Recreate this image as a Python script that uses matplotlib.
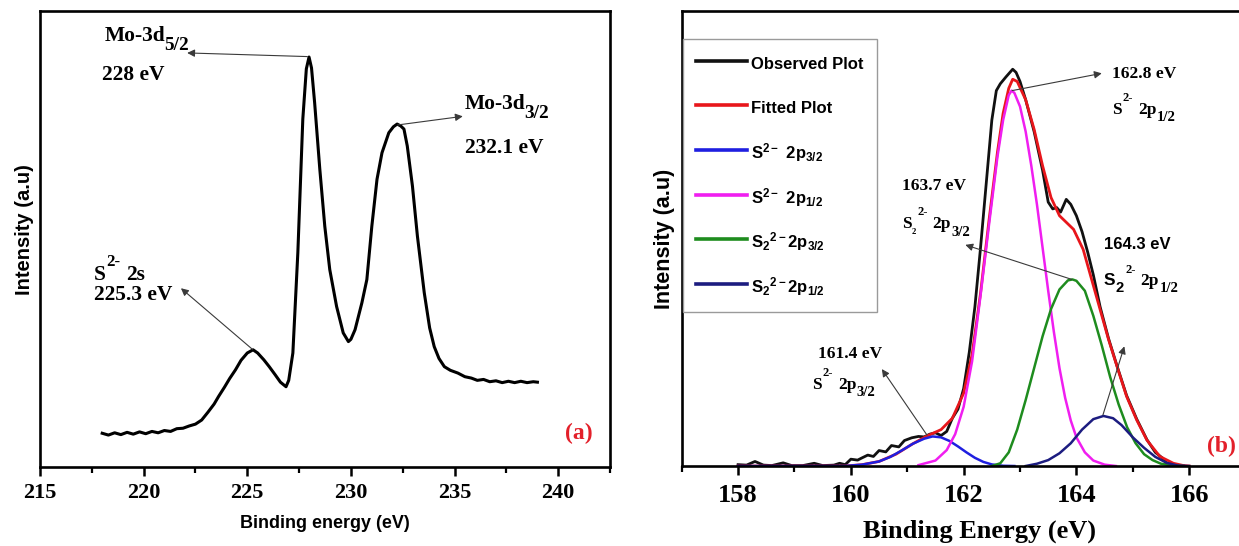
import matplotlib
matplotlib.use('Agg')
import matplotlib.pyplot as plt
from matplotlib.ticker import MultipleLocator
from matplotlib.font_manager import FontProperties

# ---------------- Panel (a): Mo 3d / S 2s region ----------------
mo_energy = [218.0, 218.3, 218.6, 218.9, 219.2, 219.5, 219.8, 220.1, 220.4, 220.7,
             221.0, 221.3, 221.6, 221.9, 222.2, 222.5, 222.8, 223.1, 223.4, 223.62,
             223.9, 224.15, 224.43, 224.7, 225.0, 225.28, 225.5, 225.8, 226.06, 226.35,
             226.6, 226.87, 227.0, 227.2, 227.44, 227.68, 227.85, 227.98, 228.1, 228.25,
             228.5, 228.74, 228.98, 229.31, 229.63, 229.88, 230.0, 230.2, 230.53, 230.77,
             231.01, 231.26, 231.5, 231.83, 232.05, 232.23, 232.4, 232.56, 232.72, 232.97,
             233.21, 233.54, 233.8, 234.02, 234.25, 234.51, 234.8, 235.16, 235.5, 235.81,
             236.1, 236.4, 236.7, 237.0, 237.3, 237.6, 237.9, 238.2, 238.5, 238.8, 239.0]
mo_intensity = [7.4, 7.0, 7.5, 7.1, 7.6, 7.2, 7.7, 7.3, 7.8, 7.5,
                8.0, 7.8, 8.4, 8.5, 9.0, 9.4, 10.3, 12.0, 13.8, 15.5,
                17.5, 19.4, 21.3, 23.4, 25.0, 25.7, 25.0, 23.5, 22.0, 20.2,
                18.6, 17.6, 19.0, 25.0, 47.0, 76.3, 87.3, 89.9, 87.5, 79.9,
                65.3, 52.8, 43.3, 35.2, 29.4, 27.5, 28.0, 30.1, 36.0, 41.1,
                52.8, 63.1, 68.9, 73.3, 74.6, 75.2, 74.8, 74.1, 70.4, 61.6,
                50.6, 38.2, 30.5, 26.4, 23.8, 22.0, 21.2, 20.6, 19.8, 19.5,
                19.0, 19.2, 18.7, 18.9, 18.5, 18.8, 18.5, 18.8, 18.5, 18.7, 18.6]

# ---------------- Panel (b): S 2p region, observed, fit and components ----------------
obs_energy = [158.0, 158.15, 158.3, 158.45, 158.6, 158.8, 158.95, 159.15, 159.35, 159.5,
              159.7, 159.8, 159.9, 160.0, 160.12, 160.2, 160.3, 160.4, 160.5, 160.62,
              160.72, 160.85, 160.95, 161.08, 161.2, 161.3, 161.4, 161.5, 161.6, 161.7,
              161.8, 161.9, 162.0, 162.1, 162.2, 162.3, 162.4, 162.5, 162.58, 162.65,
              162.75, 162.87, 162.93, 163.0, 163.1, 163.25, 163.4, 163.5, 163.58, 163.65,
              163.72, 163.82, 163.9, 164.0, 164.1, 164.2, 164.3, 164.42, 164.57, 164.72,
              164.89, 165.07, 165.25, 165.4, 165.52, 165.6, 165.75, 165.9]
obs_intensity = [0.3, 0.2, 1.0, 0.2, 0.1, 0.7, 0.1, 0.1, 0.6, 0.1,
                 0.2, 0.6, 0.3, 1.5, 1.3, 1.8, 2.4, 2.1, 3.4, 3.1,
                 4.5, 4.2, 5.6, 6.2, 6.5, 6.4, 7.0, 7.3, 6.7, 7.6,
                 10.5, 12.5, 17.0, 25.0, 35.0, 48.0, 62.0, 76.0, 82.5, 84.0,
                 85.5, 87.2, 86.5, 84.5, 80.5, 73.5, 65.0, 58.0, 56.5, 56.8,
                 55.8, 58.6, 57.5, 55.0, 51.5, 47.0, 42.0, 35.0, 28.0, 22.0,
                 15.5, 10.3, 5.8, 3.0, 1.8, 0.6, 0.2, 0.0]

fit_energy = [158.0, 159.9, 160.2, 160.5, 160.8, 161.1, 161.35, 161.6, 161.8, 162.0,
              162.15, 162.3, 162.45, 162.6, 162.7, 162.8, 162.87, 162.95, 163.1, 163.25,
              163.4, 163.55, 163.7, 163.85, 163.95, 164.12, 164.27, 164.42, 164.57, 164.72,
              164.89, 165.07, 165.25, 165.48, 165.72, 165.9, 166.0]
fit_intensity = [0.0, 0.0, 0.3, 1.0, 2.6, 4.9, 6.6, 8.0, 10.5, 16.0,
                 24.5, 38.0, 54.0, 69.0, 77.5, 83.0, 85.0, 84.5, 80.5, 74.0,
                 66.0, 59.0, 55.0, 53.2, 52.0, 47.6, 41.0, 34.4, 27.8, 21.9,
                 15.3, 10.1, 5.7, 2.1, 0.6, 0.1, 0.0]

s_2p32_energy = [158.0, 159.9, 160.2, 160.5, 160.7, 160.9, 161.1, 161.3, 161.45, 161.6,
                 161.75, 161.9, 162.05, 162.2, 162.35, 162.5, 162.7, 162.9]
s_2p32_intensity = [0.0, 0.0, 0.3, 1.0, 2.0, 3.4, 4.9, 6.0, 6.5, 6.3,
                    5.5, 4.3, 3.0, 1.8, 0.9, 0.35, 0.05, 0.0]

s_2p12_energy = [161.2, 161.5, 161.7, 161.85, 162.0, 162.15, 162.3, 162.45, 162.6, 162.7,
                 162.8, 162.85, 162.9, 163.0, 163.1, 163.2, 163.3, 163.4, 163.5, 163.6,
                 163.7, 163.8, 163.9, 164.0, 164.15, 164.3, 164.5, 164.7]
s_2p12_intensity = [0.2, 1.2, 3.5, 7.0, 13.0, 23.0, 37.5, 53.0, 68.0, 76.0,
                    81.5, 82.5, 82.0, 79.0, 73.5, 66.0, 57.5, 48.0, 38.5, 29.5,
                    21.5, 15.0, 10.0, 6.3, 3.0, 1.2, 0.3, 0.0]

s2_2p32_energy = [162.5, 162.65, 162.8, 162.95, 163.1, 163.25, 163.4, 163.55, 163.7, 163.85,
                  163.93, 164.0, 164.15, 164.3, 164.45, 164.6, 164.75, 164.9, 165.05, 165.2,
                  165.35, 165.5, 165.7, 165.9]
s2_2p32_intensity = [0.0, 0.6, 3.0, 8.0, 14.5, 21.5, 28.5, 34.5, 38.8, 40.8,
                     41.0, 40.7, 38.5, 33.0, 26.5, 19.5, 13.5, 8.5, 5.0, 2.6,
                     1.3, 0.5, 0.1, 0.0]

s2_2p12_energy = [163.1, 163.3, 163.5, 163.7, 163.9, 164.1, 164.3, 164.48, 164.65, 164.8,
                  165.0, 165.2, 165.4, 165.6, 165.8, 166.0]
s2_2p12_intensity = [0.0, 0.5, 1.3, 2.8, 5.0, 8.0, 10.3, 11.0, 10.5, 9.0,
                     6.3, 4.0, 2.0, 0.7, 0.1, 0.0]

legend_labels = ['Observed Plot', 'Fitted Plot',
                 r'$\mathregular{S^{2-}\ 2p_{3/2}}$',
                 r'$\mathregular{S^{2-}\ 2p_{1/2}}$',
                 r'$\mathregular{S_2{}^{2-}2p_{3/2}}$',
                 r'$\mathregular{S_2{}^{2-}2p_{1/2}}$']

SERIF = 'Liberation Serif'
SANS = 'Liberation Sans'
RED = '#e3202a'
ARROW = '#3a3a3a'

fig = plt.figure(figsize=(12.39, 5.46), dpi=100)
axA = fig.add_axes([0.0323, 0.1447, 0.4600, 0.8352])
axB = fig.add_axes([0.5502, 0.1465, 0.4551, 0.8334])


def style_axes(ax, xlim, major, minor, fs, pad):
    ax.set_xlim(*xlim)
    ax.set_ylim(0, 100)
    ax.set_yticks([])
    ax.xaxis.set_major_locator(MultipleLocator(major))
    ax.xaxis.set_minor_locator(MultipleLocator(minor))
    ax.tick_params(axis='x', which='major', direction='out', length=6.5, width=1.8, pad=pad)
    ax.tick_params(axis='x', which='minor', direction='out', length=4.5, width=1.6)
    for sp in ax.spines.values():
        sp.set_linewidth(1.9)
        sp.set_color('black')
    for lab in ax.get_xticklabels():
        lab.set_fontfamily(SERIF)
        lab.set_fontweight('bold')
        lab.set_fontsize(fs)


def rich(ax, x, y, parts, fs, family=SERIF, color='black'):
    """Compose a label out of pieces (text, rise_em, scale, gap_pt[, family]).
    (x, y) is the left edge / vertical centre of the first piece in data coords."""
    first = parts[0]
    prev = ax.annotate(first[0], xy=(x, y), xycoords='data',
                       xytext=(0, -0.33 * fs), textcoords='offset points',
                       ha='left', va='baseline', fontsize=fs,
                       fontfamily=first[4] if len(first) > 4 else family,
                       fontweight='bold', color=color)
    for part in parts[1:]:
        txt, rise, scale, gap = part[:4]
        fam = part[4] if len(part) > 4 else family
        prev = ax.annotate(txt, xy=(1, y), xycoords=(prev, 'data'),
                           xytext=(gap, (rise - 0.33) * fs), textcoords='offset points',
                           ha='left', va='baseline', fontsize=fs * scale,
                           fontfamily=fam, fontweight='bold', color=color)
    return prev


SUP = 0.62
SUB = -0.42

# ---------------- Panel (a) ----------------
axA.plot(mo_energy, mo_intensity, color='black', lw=2.2)
style_axes(axA, (215, 242.5), 5, 2.5, 16, 5)
axA.set_xlabel('Binding energy (eV)', fontfamily=SANS, fontweight='bold', fontsize=13, labelpad=8.5)
axA.set_ylabel('Intensity (a.u)', fontfamily=SANS, fontweight='bold', fontsize=14.5, labelpad=4, y=0.52)

FA = 15.5
rich(axA, 218.1, 95.0, [('Mo-3d', 0, 1, 0), ('5/2', SUB, 0.9, -0.8)], FA)
rich(axA, 218.0, 86.5, [('228 eV', 0, 1, 0)], FA)
rich(axA, 235.5, 80.0, [('Mo-3d', 0, 1, 0), ('3/2', SUB, 0.9, -0.8)], FA)
rich(axA, 235.5, 70.4, [('232.1 eV', 0, 1, 0)], FA)
rich(axA, 217.6, 42.6, [('S', 0, 1, 0), ('2-', SUP, 0.78, 0.3), ('2s', 0, 1, 4.0)], FA)
rich(axA, 217.6, 38.2, [('225.3 eV', 0, 1, 0)], FA)
axA.text(241.0, 7.3, '(a)', color=RED, fontfamily=SERIF, fontweight='bold', fontsize=17,
         va='center', ha='center')

arrow_kw = dict(arrowstyle='-|>', color=ARROW, lw=0.8, mutation_scale=11, shrinkA=0, shrinkB=0)
axA.annotate('', xy=(222.1, 90.8), xytext=(227.9, 90.0), arrowprops=arrow_kw)
axA.annotate('', xy=(235.4, 76.9), xytext=(232.25, 75.0), arrowprops=arrow_kw)
axA.annotate('', xy=(221.8, 39.2), xytext=(225.25, 25.8), arrowprops=arrow_kw)

# ---------------- Panel (b) ----------------
axB.plot(obs_energy, obs_intensity, color='#111111', lw=2.0, label=legend_labels[0])
axB.plot(fit_energy, fit_intensity, color='#e8161b', lw=2.0, label=legend_labels[1])
axB.plot(s_2p32_energy, s_2p32_intensity, color='#1f1fe0', lw=1.8, label=legend_labels[2])
axB.plot(s_2p12_energy, s_2p12_intensity, color='#f01ef0', lw=1.8, label=legend_labels[3])
axB.plot(s2_2p32_energy, s2_2p32_intensity, color='#1e8c1e', lw=1.8, label=legend_labels[4])
axB.plot(s2_2p12_energy, s2_2p12_intensity, color='#1c1c80', lw=1.8, label=legend_labels[5])
style_axes(axB, (157, 167), 2, 1, 19, 6.5)
axB.set_xlabel('Binding Energy (eV)', fontfamily=SERIF, fontweight='bold', fontsize=19,
               labelpad=9, x=0.528)
axB.set_ylabel('Intensity (a.u)', fontfamily=SANS, fontweight='bold', fontsize=15.5, labelpad=5, y=0.5)

leg = axB.legend(loc='upper left', bbox_to_anchor=(0.0018, 0.938), frameon=True, fancybox=False,
                 edgecolor='#9a9a9a', framealpha=1,
                 prop=FontProperties(family=SANS, weight='bold', size=12),
                 handlelength=3.06, handleheight=1.7, handletextpad=0.26, labelspacing=1.3,
                 borderpad=0.8, borderaxespad=0)
leg.get_frame().set_linewidth(1.0)
for ln in leg.get_lines():
    ln.set_linewidth(2.6)

FB = 12.5
rich(axB, 164.64, 86.5, [('162.8 eV', 0, 1, 0)], FB)
rich(axB, 164.64, 78.6, [('S', 0, 1, 0), ('2-', 0.77, 0.72, 0.3), ('2p', 0, 1, 3.5),
                         ('1/2', SUB, 0.85, 0.2)], FB)
rich(axB, 160.9, 62.0, [('163.7 eV', 0, 1, 0)], FB)
rich(axB, 160.9, 53.5, [('S', 0, 1, 0), ('2', -0.3, 0.5, 0.2), ('2-', 0.75, 0.72, 1.0),
                        ('2p', 0, 1, 3.5), ('3/2', SUB, 0.85, 0.2)], FB)
rich(axB, 164.49, 48.9, [('164.3 eV', 0, 1, 0)], 12, family=SANS)
rich(axB, 164.49, 41.0, [('S', 0, 1, 0, SANS), ('2', -0.4, 0.85, 0.2, SANS),
                         ('2-', 0.7, 0.72, 0.8), ('2p', 0, 1, 3.5), ('1/2', SUB, 0.85, 0.2)], FB)
rich(axB, 159.41, 25.0, [('161.4 eV', 0, 1, 0)], FB)
rich(axB, 159.32, 18.2, [('S', 0, 1, 0), ('2-', 0.77, 0.72, 0.3), ('2p', 0, 1, 3.5),
                         ('3/2', SUB, 0.85, 0.2)], FB)
axB.text(166.58, 4.3, '(b)', color=RED, fontfamily=SERIF, fontweight='bold', fontsize=17,
         va='center', ha='center')

axB.annotate('', xy=(164.45, 86.3), xytext=(162.86, 82.5), arrowprops=arrow_kw)
axB.annotate('', xy=(162.03, 48.6), xytext=(163.92, 41.0), arrowprops=arrow_kw)
axB.annotate('', xy=(164.85, 26.3), xytext=(164.47, 11.2), arrowprops=arrow_kw)
axB.annotate('', xy=(160.55, 21.3), xytext=(161.35, 6.8), arrowprops=arrow_kw)

fig.savefig('out.png', dpi=100)
